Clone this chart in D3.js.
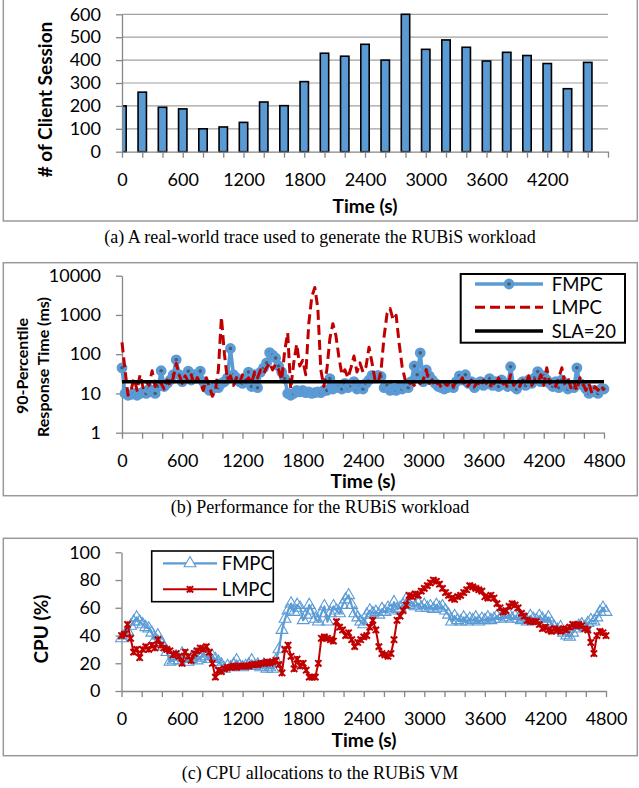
<!DOCTYPE html>
<html>
<head>
<meta charset="utf-8">
<script src="https://cdn.jsdelivr.net/npm/d3@7"></script>
<style>
  body { margin: 0; background: #fff; }
  svg text { font-family: Lato, "Open Sans", sans-serif; }
  .cap { font-family: "Liberation Serif", "Times New Roman", serif; }
</style>
</head>
<body>
<svg id="fig" width="639" height="788"></svg>
<script>
// ---- data ----
// (a) client sessions, one bar every 200 s
var sessionTimes = [0,200,400,600,800,1000,1200,1400,1600,1800,2000,2200,
                    2400,2600,2800,3000,3200,3400,3600,3800,4000,4200,4400,4600];
var sessionCounts = [200,260,194,187,100,108,128,217,201,306,430,417,
                     469,400,600,447,488,456,396,434,420,385,275,390];

// (b) 90-percentile response time (ms), one sample every 30 s from t=0
var respStep = 30;
var fmpcResp = [45,10,9,9.5,10,9,10,11,10,13,
                11,10,15,38,15,18,22,30,72,30,
                20,28,37,22,30,25,37,20,14,12,
                13,15,14,18,20,25,140,30,25,20,
                18,22,35,15,30,14,35,45,60,110,
                95,80,50,35,24,10,9,10,12,11,
                12,10.5,11,10,10.5,11,10.5,12,12,24,
                13,14,15,13,18,14,16,20,13,15,
                13,18,22,29,25,29,27,14,16,12,
                13,12,14,13,16,14,20,50,30,108,
                20,40,28,22,18,15,14,13,14,16,
                14,20,28,22,30,18,20,14,17,20,
                16,18,24,16,20,15,22,18,15,48,
                15,13,17,20,16,22,18,25,36,20,
                28,22,18,15,20,14,22,16,13,16,
                14,45,18,16,13,10,12,11,10,13,
                13];
var lmpcResp = [200,40,9,12,25,12,30,14,20,16,
                38,15,22,18,13,22,16,25,58,30,
                18,28,20,30,16,25,18,12,25,15,
                8.5,12,40,880,100,22,28,16,25,18,
                30,20,25,18,35,25,40,32,45,60,
                40,55,40,22,120,350,13,60,180,50,
                70,30,600,2900,5000,1500,40,15,40,250,
                600,300,85,30,40,25,45,90,35,60,
                35,48,150,60,22,18,40,280,1100,1450,
                750,980,190,48,22,16,20,16,20,18,
                22,40,18,22,15,20,14,18,16,22,
                15,20,18,25,14,16,22,15,20,15,
                22,18,14,20,16,25,15,20,14,30,
                16,20,15,22,18,28,16,22,18,30,
                16,45,18,22,15,25,45,18,25,14,
                20,12,25,18,12,18,10,15,12,16,
                12];
var slaLevel = 20;

// (c) CPU allocation (%), one sample every 30 s from t=0
var cpuStep = 30;
var fmpcCpu = [38,40,43,47,50,53,50,48,46,45,
               42,37,40,35,32,28,21,22,25,22,
               27,24,21,23,26,22,24,27,25,23,
               25,23,21,19,16,18,17,19,22,18,
               17,18,19,22,18,19,17,19,16,17,
               16,22,30,44,52,58,63,57,62,60,
               51,55,62,58,52,50,56,61,50,56,
               61,58,56,62,66,69,62,56,53,50,
               48,55,58,56,57,55,59,57,60,58,
               64,59,60,62,66,62,64,61,63,60,
               62,60,61,59,62,60,61,58,55,50,
               54,51,50,53,50,52,51,53,50,52,
               51,53,51,52,54,52,55,53,55,52,
               54,52,51,53,50,54,52,51,54,52,
               50,53,49,46,44,46,42,40,39,42,
               45,47,48,46,49,51,50,53,57,60,
               57];
var lmpcCpu = [40,41,48,38,28,30,24,30,32,30,
               33,31,37,33,31,30,29,26,27,25,
               20,28,25,22,27,29,31,30,32,28,
               20,10,15,14,16,17,17,18,17,18,
               18,18,18,19,19,19,20,20,21,20,
               21,22,19,13,30,33,25,16,23,18,
               20,15,10,10,10,20,38,39,38,37,
               36,50,46,44,40,42,37,32,35,37,
               39,40,46,51,44,32,27,26,25,27,
               37,51,54,58,62,69,68,70,69,72,
               74,76,78,80,79,77,74,71,69,67,
               66,68,69,71,73,76,75,74,73,72,
               68,67,69,67,63,60,57,58,61,63,
               62,60,56,54,51,50,50,50,48,45,
               46,44,43,45,44,43,45,44,46,48,
               47,48,47,45,44,35,27,40,43,42,
               40];

var timeTicks = d3.range(0, 4801, 200);
var sessionTicks = [0,100,200,300,400,500,600];
var respTicks = [1,10,100,1000,10000];
var cpuTicks = [0,20,40,60,80,100];

var blue = "#5B9BD5", red = "#C00000", axisGray = "#868686";

var svg = d3.select("#fig");

// panel frames
[[-2, 221], [262.7, 495.7], [538.3, 755.7]].forEach(function(f){
  svg.append("rect")
    .attr("x", 3.3).attr("y", f[0])
    .attr("width", 634).attr("height", f[1] - f[0])
    .attr("fill", "none").attr("stroke", "#9a9a9a").attr("stroke-width", 1.5);
});

function styleAxis(g){
  g.attr("font-family", "Lato, sans-serif").attr("font-size", 18);
  g.selectAll("path.domain").attr("stroke", axisGray).attr("stroke-width", 1.3);
  g.selectAll(".tick line").attr("stroke", axisGray).attr("stroke-width", 1.3);
  g.selectAll(".tick text").attr("fill", "#000");
}

function timeLabel(max){
  return function(d){ return (d % 600 === 0 && d <= max) ? d : ""; };
}

function boldTitle(x, y, text, size, rotate){
  var t = svg.append("text")
    .attr("text-anchor", "middle")
    .attr("font-weight", "bold")
    .attr("font-size", size)
    .text(text);
  if (rotate) t.attr("transform", "translate(" + x + "," + y + ") rotate(-90)");
  else t.attr("x", x).attr("y", y);
}

function caption(y, text){
  svg.append("text").attr("class", "cap")
    .attr("x", 320).attr("y", y)
    .attr("text-anchor", "middle")
    .attr("font-size", 18)
    .text(text);
}

// ================= (a) sessions =================
var xa = d3.scaleLinear().domain([0, 4800]).range([122, 608]);
var ya = d3.scaleLinear().domain([0, 600]).range([151.7, 14.3]);

svg.append("g").selectAll("line").data(sessionTicks.slice(1)).enter().append("line")
  .attr("x1", 122).attr("x2", 608)
  .attr("y1", function(d){ return ya(d); }).attr("y2", function(d){ return ya(d); })
  .attr("stroke", "#a0a0a0").attr("stroke-width", 1.2);

svg.append("clipPath").attr("id", "clipA").append("rect")
  .attr("x", 122).attr("y", 0).attr("width", 490).attr("height", 160);

svg.append("g").attr("clip-path", "url(#clipA)")
  .selectAll("rect").data(sessionCounts).enter().append("rect")
  .attr("x", function(d, i){ return xa(sessionTimes[i]) - 4.2; })
  .attr("width", 8.4)
  .attr("y", function(d){ return ya(d); })
  .attr("height", function(d){ return ya(0) - ya(d); })
  .attr("fill", blue).attr("stroke", "#000").attr("stroke-width", 1.6);

svg.append("g").attr("transform", "translate(0," + ya(0) + ")")
  .call(d3.axisBottom(xa).tickValues(timeTicks).tickFormat(timeLabel(4200))
        .tickSize(6).tickSizeOuter(0).tickPadding(15.5))
  .call(styleAxis);
svg.append("g").attr("transform", "translate(122,0)")
  .call(d3.axisLeft(ya).tickValues(sessionTicks).tickSize(6).tickSizeOuter(0).tickPadding(15))
  .call(styleAxis);

boldTitle(52, 99.5, "# of Client Session", 19, true);
boldTitle(365, 212.5, "Time (s)", 19, false);
caption(242.5, "(a) A real-world trace used to generate the RUBiS workload");

// ================= (b) response time =================
var xb = d3.scaleLinear().domain([0, 4800]).range([122, 604]);
var yb = d3.scaleLog().domain([1, 10000]).range([432.7, 275.7]);

svg.append("g").attr("transform", "translate(0," + yb(1) + ")")
  .call(d3.axisBottom(xb).tickValues(timeTicks).tickFormat(timeLabel(4800))
        .tickSize(6).tickSizeOuter(0).tickPadding(15.5))
  .call(styleAxis);
svg.append("g").attr("transform", "translate(122,0)")
  .call(d3.axisLeft(yb).tickValues(respTicks).tickFormat(d3.format("d"))
        .tickSize(6).tickSizeOuter(0).tickPadding(15))
  .call(styleAxis);

var lineB = d3.line()
  .x(function(d, i){ return xb(i * respStep); })
  .y(function(d){ return yb(d); });

svg.append("path").datum(fmpcResp)
  .attr("d", lineB).attr("fill", "none")
  .attr("stroke", blue).attr("stroke-width", 3.5).attr("stroke-linejoin", "round");
svg.append("g").selectAll("circle").data(fmpcResp).enter().append("circle")
  .attr("cx", function(d, i){ return xb(i * respStep); })
  .attr("cy", function(d){ return yb(d); })
  .attr("r", 3.6)
  .attr("fill", "#4A5B6E").attr("stroke", blue).attr("stroke-width", 3.6);

svg.append("path").datum(lmpcResp)
  .attr("d", lineB).attr("fill", "none")
  .attr("stroke", red).attr("stroke-width", 3).attr("stroke-dasharray", "10,5")
  .attr("stroke-linejoin", "round");

svg.append("line")
  .attr("x1", xb(0)).attr("x2", xb(4800))
  .attr("y1", yb(slaLevel)).attr("y2", yb(slaLevel))
  .attr("stroke", "#000").attr("stroke-width", 3.5);

// legend (b)
svg.append("rect").attr("x", 460.7).attr("y", 274).attr("width", 164.3).attr("height", 68.7)
  .attr("fill", "#fff").attr("stroke", "#000").attr("stroke-width", 2);
var legB = [
  {name: "FMPC", y: 284, color: blue, w: 3.5, dash: null, dot: true},
  {name: "LMPC", y: 307.3, color: red, w: 3, dash: "10,5", dot: false},
  {name: "SLA=20", y: 331, color: "#000", w: 3.5, dash: null, dot: false}
];
legB.forEach(function(l){
  svg.append("line").attr("x1", 475).attr("x2", 543).attr("y1", l.y).attr("y2", l.y)
    .attr("stroke", l.color).attr("stroke-width", l.w).attr("stroke-dasharray", l.dash);
  if (l.dot) svg.append("circle").attr("cx", 509).attr("cy", l.y).attr("r", 3.6)
    .attr("fill", "#4A5B6E").attr("stroke", blue).attr("stroke-width", 3.6);
  svg.append("text").attr("x", 551.7).attr("y", l.y + 6.6).attr("font-size", 18.5).text(l.name);
});

svg.append("text").attr("text-anchor", "middle").attr("font-weight", "bold").attr("font-size", 16)
  .attr("transform", "translate(28,366) rotate(-90)").text("90-Percentile");
svg.append("text").attr("text-anchor", "middle").attr("font-weight", "bold").attr("font-size", 16)
  .attr("transform", "translate(49,367) rotate(-90)").text("Response Time (ms)");
boldTitle(363, 488, "Time (s)", 19, false);
caption(513, "(b) Performance for the RUBiS workload");

// ================= (c) CPU =================
var xc = d3.scaleLinear().domain([0, 4800]).range([121.5, 606]);
var yc = d3.scaleLinear().domain([0, 100]).range([691, 552.3]);

svg.append("g").attr("transform", "translate(0," + yc(0) + ")")
  .call(d3.axisBottom(xc).tickValues(timeTicks).tickFormat(timeLabel(4800))
        .tickSize(6).tickSizeOuter(0).tickPadding(15.5))
  .call(styleAxis);
svg.append("g").attr("transform", "translate(121.5,0)")
  .call(d3.axisLeft(yc).tickValues(cpuTicks).tickSize(6).tickSizeOuter(0).tickPadding(15))
  .call(styleAxis);

var lineC = d3.line()
  .x(function(d, i){ return xc(i * cpuStep); })
  .y(function(d){ return yc(d); });

var triangle = d3.symbol().type(d3.symbolTriangle).size(60);
var star = d3.symbol().size(40).type({
  draw: function(ctx, size){
    var r = Math.sqrt(size) / 2;
    ctx.moveTo(-r, -r); ctx.lineTo(r, r);
    ctx.moveTo(-r, r); ctx.lineTo(r, -r);
    ctx.moveTo(0, -r); ctx.lineTo(0, r);
  }
});

svg.append("path").datum(fmpcCpu)
  .attr("d", lineC).attr("fill", "none")
  .attr("stroke", blue).attr("stroke-width", 2.2).attr("stroke-linejoin", "round");
svg.append("g").selectAll("path").data(fmpcCpu).enter().append("path")
  .attr("d", triangle)
  .attr("transform", function(d, i){ return "translate(" + xc(i * cpuStep) + "," + yc(d) + ")"; })
  .attr("fill", "none").attr("stroke", blue).attr("stroke-width", 1.1);

svg.append("path").datum(lmpcCpu)
  .attr("d", lineC).attr("fill", "none")
  .attr("stroke", red).attr("stroke-width", 2).attr("stroke-linejoin", "round");
svg.append("g").selectAll("path").data(lmpcCpu).enter().append("path")
  .attr("d", star)
  .attr("transform", function(d, i){ return "translate(" + xc(i * cpuStep) + "," + yc(d) + ")"; })
  .attr("fill", "none").attr("stroke", red).attr("stroke-width", 2);

// legend (c)
svg.append("rect").attr("x", 151.7).attr("y", 551).attr("width", 121.6).attr("height", 50.7)
  .attr("fill", "#fff").attr("stroke", "#000").attr("stroke-width", 1.6);
svg.append("line").attr("x1", 163).attr("x2", 217).attr("y1", 563.3).attr("y2", 563.3)
  .attr("stroke", blue).attr("stroke-width", 2.2);
svg.append("path").attr("d", triangle).attr("transform", "translate(190,563.3)")
  .attr("fill", "#fff").attr("stroke", blue).attr("stroke-width", 1.1);
svg.append("text").attr("x", 221.7).attr("y", 570).attr("font-size", 18.5).text("FMPC");
svg.append("line").attr("x1", 163).attr("x2", 217).attr("y1", 589.3).attr("y2", 589.3)
  .attr("stroke", red).attr("stroke-width", 2);
svg.append("path").attr("d", star).attr("transform", "translate(190,589.3)")
  .attr("fill", "none").attr("stroke", red).attr("stroke-width", 2);
svg.append("text").attr("x", 221.7).attr("y", 596).attr("font-size", 18.5).text("LMPC");

boldTitle(48, 629, "CPU (%)", 19, true);
boldTitle(364, 747, "Time (s)", 19, false);
caption(779, "(c) CPU allocations to the RUBiS VM");
</script>
</body>
</html>
